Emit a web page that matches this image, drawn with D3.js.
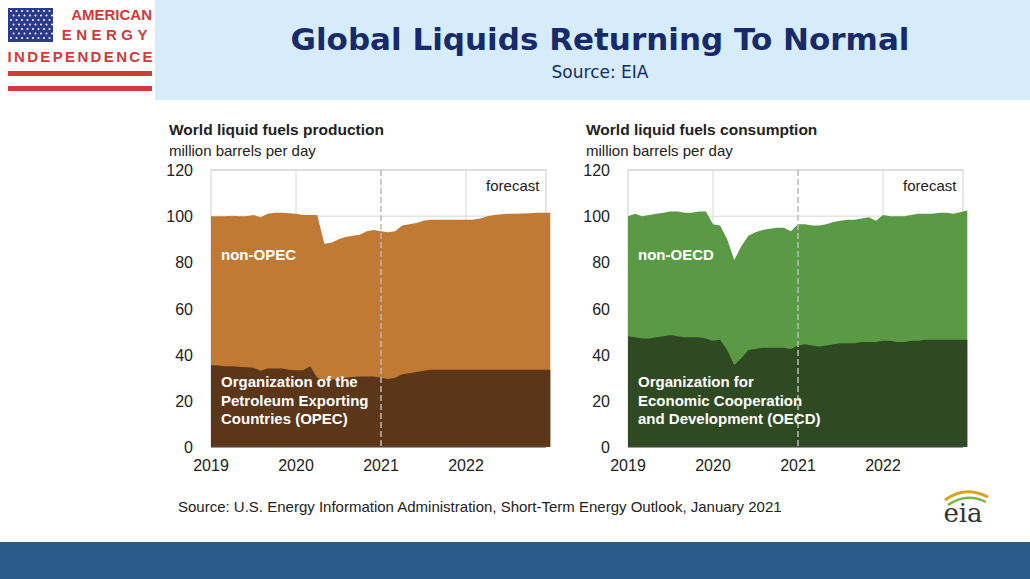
<!DOCTYPE html>
<html><head><meta charset="utf-8">
<script src="https://cdn.jsdelivr.net/npm/d3@7"></script>
<style>body{margin:0;background:#fff;}svg{display:block;font-family:Arial,"Liberation Sans",sans-serif;}</style>
</head><body>
<svg id="c" width="1030" height="579"></svg>
<script>
var years = ['2019', '2020', '2021', '2022'];
var yTicks = [0, 20, 40, 60, 80, 100, 120];

// monthly Jan 2019 .. Dec 2022
var prodTotal = [100,100,100,100.2,100,100,100.5,99.5,101,101.5,101.5,101.3,
  101,100.5,100.5,100.5,88,88.5,90,91,91.5,92,93.5,94,
  93.5,93,93.5,96,96.5,97,98,98.5,98.5,98.5,98.5,98.5,
  98.5,98.5,99,100,100.5,100.8,101,101,101.2,101.3,101.5,101.5];
var prodOpec = [35.5,35.3,35,35,34.8,34.5,34.3,33,34,34,34,33.5,
  33.3,33.3,35,30,29,29.3,29.5,30,30.3,30.5,30.5,30.5,
  30,29.5,30,31.5,32,32.5,33,33.5,33.5,33.5,33.5,33.5,
  33.5,33.5,33.5,33.5,33.5,33.5,33.5,33.5,33.5,33.5,33.5,33.5];
var consTotal = [100,101,100,100.5,101,101.5,102,102,101.5,101.5,102,102,
  96.5,96,90,81,87,91.5,93,94,94.5,95,95,93.5,
  96.5,96.5,96,96,96.5,97.5,98,98.5,98.5,99,99.5,98,
  100.5,100,100,100,100.5,101,101,101,101.5,101.5,101,102.5];
var consOecd = [48,47.5,47,47,47.5,48,48.5,48,47.5,47.5,47.5,47,
  46,46.5,42,35.5,38.5,42,42.5,43,43,43,43,42.5,
  44,44.5,44,43.5,44,44.5,45,45,45,45.5,45.5,45.5,
  46,46,45.5,45.5,46,46,46.5,46.5,46.5,46.5,46.5,46.5];

var svg = d3.select('#c');

// header band
svg.append('rect').attr('x', 155).attr('y', 0).attr('width', 875).attr('height', 100).attr('fill', '#d6ecfb');
svg.append('text').attr('x', 600).attr('y', 50).attr('text-anchor', 'middle')
  .attr('font-family', 'DejaVu Sans').attr('font-weight', 'bold').attr('font-size', 31)
  .attr('fill', '#172a6b').text('Global Liquids Returning To Normal');
svg.append('text').attr('x', 600).attr('y', 78).attr('text-anchor', 'middle')
  .attr('font-family', 'DejaVu Sans').attr('font-size', 17).attr('fill', '#172a6b').text('Source:  EIA');

// logo
svg.append('rect').attr('x', 8).attr('y', 8).attr('width', 45).attr('height', 34).attr('fill', '#2b3a8c');
for (var r = 0; r < 7; r++) {
  for (var k = 0; k < 8; k++) {
    svg.append('circle').attr('cx', 11 + k * 5.5 + (r % 2) * 2.5).attr('cy', 11 + r * 4.5).attr('r', 1).attr('fill', '#fff');
  }
}
svg.append('text').attr('x', 152).attr('y', 20).attr('text-anchor', 'end').attr('font-size', 15).attr('font-weight', 'bold').attr('fill', '#d33a3a').text('AMERICAN');
svg.append('text').attr('x', 152).attr('y', 40).attr('text-anchor', 'end').attr('font-size', 15).attr('font-weight', 'bold').attr('fill', '#d33a3a').attr('letter-spacing', 4.5).text('ENERGY');
svg.append('text').attr('x', 80).attr('y', 62).attr('text-anchor', 'middle').attr('font-size', 15).attr('font-weight', 'bold').attr('fill', '#d33a3a').attr('textLength', 145).text('INDEPENDENCE');
svg.append('rect').attr('x', 8).attr('y', 71).attr('width', 144).attr('height', 5).attr('fill', '#d33a3a');
svg.append('rect').attr('x', 8).attr('y', 86).attr('width', 144).attr('height', 5).attr('fill', '#d33a3a');

function panel(x0, title, total, lower, cTop, cLow, topLabel, lowLabels) {
  var x = d3.scaleLinear().domain([2019, 2023]).range([x0, x0 + 340]);
  var y = d3.scaleLinear().domain([0, 120]).range([447, 170]);
  var g = svg.append('g');
  var dates = total.map(function (d, i) { return 2019 + i / 12 + (i === total.length - 1 ? 0.9 / 12 : 0); });
  var xEnd = x0 + 335;

  g.append('text').attr('x', x0 - 42).attr('y', 135).attr('font-size', 15.5).attr('font-weight', 'bold').attr('fill', '#222').text(title);
  g.append('text').attr('x', x0 - 42).attr('y', 156).attr('font-size', 15).attr('fill', '#222').text('million barrels per day');

  g.selectAll('.gy').data(yTicks).enter().append('line')
    .attr('x1', x0).attr('x2', xEnd).attr('y1', y).attr('y2', y).attr('stroke', '#d8d8d8');
  g.selectAll('.gx').data([2020, 2022]).enter().append('line')
    .attr('x1', x).attr('x2', x).attr('y1', 170).attr('y2', 447).attr('stroke', '#d8d8d8');
  g.append('rect').attr('x', x0).attr('y', 170).attr('width', xEnd - x0).attr('height', 277)
    .attr('fill', 'none').attr('stroke', '#cfcfcf');

  var areaTop = d3.area().x(function (d, i) { return x(dates[i]); }).y0(447).y1(function (d) { return y(d); });
  g.append('path').datum(total).attr('d', areaTop).attr('fill', cTop);
  g.append('path').datum(lower).attr('d', areaTop).attr('fill', cLow);

  g.append('line').attr('x1', x(2021)).attr('x2', x(2021)).attr('y1', 170).attr('y2', 447)
    .attr('stroke', '#bbb').attr('stroke-width', 1.5).attr('stroke-dasharray', '6,3');
  g.append('line').attr('x1', x0).attr('x2', xEnd).attr('y1', 447).attr('y2', 447).attr('stroke', '#555');

  g.append('text').attr('x', x(2022.55)).attr('y', 191).attr('text-anchor', 'middle').attr('font-size', 15).attr('fill', '#222').text('forecast');

  g.selectAll('.yl').data(yTicks).enter().append('text')
    .attr('x', x0 - 18).attr('y', function (d) { return y(d) + 6; }).attr('text-anchor', 'end')
    .attr('font-size', 16).attr('fill', '#222').text(function (d) { return d; });
  g.selectAll('.xl').data(years).enter().append('text')
    .attr('x', function (d) { return x(+d); }).attr('y', 471).attr('text-anchor', 'middle')
    .attr('font-size', 16).attr('fill', '#222').text(function (d) { return d; });

  g.append('text').attr('x', x0 + 10).attr('y', 260).attr('font-size', 15).attr('font-weight', 'bold').attr('fill', '#fff').text(topLabel);
  lowLabels.forEach(function (t, i) {
    g.append('text').attr('x', x0 + 10).attr('y', 387 + i * 18.5).attr('font-size', 15).attr('font-weight', 'bold').attr('fill', '#fff').text(t);
  });
}

panel(211, 'World liquid fuels production', prodTotal, prodOpec, '#c07a34', '#5b3619', 'non-OPEC',
  ['Organization of the', 'Petroleum Exporting', 'Countries (OPEC)']);
panel(628, 'World liquid fuels consumption', consTotal, consOecd, '#5b9a45', '#2f4a23', 'non-OECD',
  ['Organization for', 'Economic Cooperation', 'and Development (OECD)']);

svg.append('text').attr('x', 178).attr('y', 512).attr('font-size', 15).attr('fill', '#222')
  .text('Source: U.S. Energy Information Administration, Short-Term Energy Outlook, January 2021');
svg.append('text').attr('x', 963).attr('y', 522).attr('text-anchor', 'middle').attr('font-family', 'DejaVu Serif').attr('font-size', 26).attr('fill', '#333').text('eia');
svg.append('path').attr('d', 'M945,500 Q965,485 988,497').attr('fill', 'none').attr('stroke', '#e0a020').attr('stroke-width', 3);
svg.append('path').attr('d', 'M948,505 Q966,492 986,502').attr('fill', 'none').attr('stroke', '#7ab648').attr('stroke-width', 2.5);

svg.append('rect').attr('x', 0).attr('y', 542).attr('width', 1030).attr('height', 37).attr('fill', '#2c5a88');
</script>
</body></html>
